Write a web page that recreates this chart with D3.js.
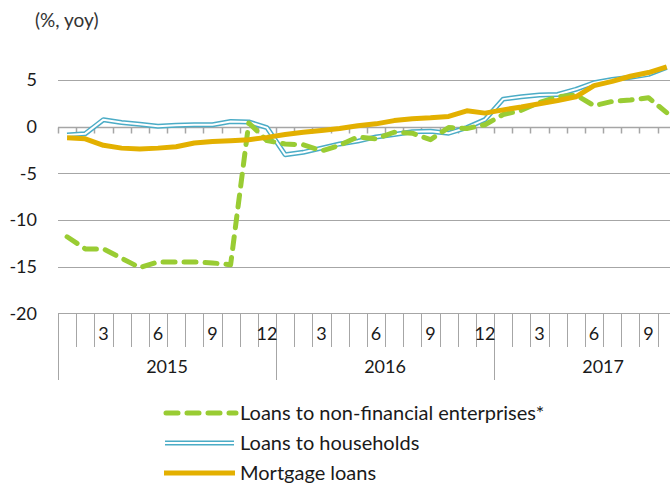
<!DOCTYPE html>
<html><head><meta charset="utf-8">
<script src="https://cdn.jsdelivr.net/npm/d3@7"></script>
<style>
html,body{margin:0;padding:0;background:#fff;}
svg{display:block;font-family:Lato, "Open Sans", sans-serif;}
</style></head>
<body>
<script>
const years = ["2015","2016","2017"];
const months = ["1","2","3","4","5","6","7","8","9","10","11","12",
                "1","2","3","4","5","6","7","8","9","10","11","12",
                "1","2","3","4","5","6","7","8","9","10"];
const yTicks = [5,0,-5,-10,-15,-20];
const seriesNames = ["Loans to non-financial enterprises*","Loans to households","Mortgage loans"];
const enterprises = [-11.8,-13.1,-13.1,-14.1,-15.1,-14.5,-14.5,-14.5,-14.6,-14.8,
                     0.4,-1.5,-1.85,-1.95,-2.6,-2.0,-1.1,-1.3,-0.6,-0.7,-1.4,-0.1,-0.2,0.2,
                     1.3,1.75,2.6,3.2,3.4,2.25,2.7,2.85,3.1,1.5];
const households = [-0.9,-0.75,0.75,0.45,0.25,0.05,0.15,0.2,0.2,0.55,0.5,-0.1,
                    -3.0,-2.75,-2.3,-1.85,-1.55,-1.1,-0.85,-0.55,-0.5,-0.7,-0.1,0.75,
                    2.95,3.2,3.4,3.45,4.0,4.7,5.05,5.3,5.6,6.35];
const mortgage = [-1.2,-1.3,-2.0,-2.3,-2.4,-2.3,-2.15,-1.75,-1.6,-1.5,-1.4,-1.15,
                  -0.85,-0.6,-0.4,-0.2,0.1,0.3,0.65,0.85,0.95,1.1,1.7,1.45,
                  1.8,2.1,2.45,2.8,3.2,4.4,4.85,5.4,5.8,6.4];

const W=670,H=483;
const svg=d3.select("body").append("svg").attr("width",W).attr("height",H);
const left=58, cell=18.17, right=left+months.length*cell;
const x=d3.scaleBand().domain(d3.range(months.length)).range([left,right]).padding(0);
const y=d3.scaleLinear().domain([-20,5]).range([313.3,80]);
const gray="#A6A6A6", txt="#1a1a1a";

// title
svg.append("text").attr("x",35).attr("y",27).attr("font-size",19).attr("fill","#333").text("(%, yoy)");

// gridlines
svg.append("g").selectAll("line").data(yTicks.filter(d=>d!==0)).join("line")
  .attr("x1",left).attr("x2",right).attr("y1",d=>Math.round(y(d))+0.5).attr("y2",d=>Math.round(y(d))+0.5)
  .attr("stroke",gray).attr("stroke-width",1);
// y labels
svg.append("g").selectAll("text").data(yTicks).join("text")
  .attr("x",37).attr("y",d=>y(d)).attr("dy","0.35em").attr("text-anchor","end")
  .attr("font-size",18).attr("fill",txt).text(d=>d);

// zero axis with ticks
const zy=Math.round(y(0))+0.5;
svg.append("line").attr("x1",left).attr("x2",right).attr("y1",zy).attr("y2",zy).attr("stroke",gray).attr("stroke-width",1.5);
svg.append("g").selectAll("line").data(d3.range(months.length+1)).join("line")
  .attr("x1",i=>Math.round(left+i*cell)+0.5).attr("x2",i=>Math.round(left+i*cell)+0.5)
  .attr("y1",zy).attr("y2",zy+6).attr("stroke",gray).attr("stroke-width",1.5);

// category axis
const by=Math.round(y(-20))+0.5;
svg.append("line").attr("x1",left).attr("x2",right).attr("y1",by).attr("y2",by).attr("stroke",gray);
svg.append("g").selectAll("line").data(d3.range(months.length+1)).join("line")
  .attr("x1",i=>Math.round(left+i*cell)+0.5).attr("x2",i=>Math.round(left+i*cell)+0.5)
  .attr("y1",by).attr("y2",i=>(i%12===0)?380:347).attr("stroke",gray);
svg.append("g").selectAll("text").data(months.map((m,i)=>({m,i})).filter(d=>+d.m%3===0)).join("text")
  .attr("x",d=>x(d.i)+x.bandwidth()/2).attr("y",340).attr("text-anchor","middle")
  .attr("font-size",18).attr("fill",txt).text(d=>d.m);
svg.append("g").selectAll("text").data(years).join("text")
  .attr("x",(d,i)=>left+(i*12+6)*cell).attr("y",373).attr("text-anchor","middle")
  .attr("font-size",18).attr("fill",txt).text(d=>d);

const line=d3.line().x((d,i)=>x(i)+x.bandwidth()/2).y(d=>y(d));
const teal="#4BACC6", green="#99CC33", gold="#E3B000";
// households double line
svg.append("path").attr("d",line(households)).attr("fill","none").attr("stroke",teal).attr("stroke-width",5).attr("stroke-linejoin","round");
svg.append("path").attr("d",line(households)).attr("fill","none").attr("stroke","#fff").attr("stroke-width",2).attr("stroke-linejoin","round");
// enterprises
svg.append("path").attr("d",line(enterprises)).attr("fill","none").attr("stroke",green).attr("stroke-width",5)
  .attr("stroke-dasharray","12,9").attr("stroke-linecap","round").attr("stroke-linejoin","round");
// mortgage
svg.append("path").attr("d",line(mortgage)).attr("fill","none").attr("stroke",gold).attr("stroke-width",5).attr("stroke-linejoin","round");

// legend
const lg=svg.append("g");
const rows=[413,443,473];
lg.append("line").attr("x1",166).attr("x2",236).attr("y1",rows[0]).attr("y2",rows[0])
  .attr("stroke",green).attr("stroke-width",5).attr("stroke-dasharray","12,9").attr("stroke-linecap","round");
lg.append("line").attr("x1",165).attr("x2",234).attr("y1",rows[1]).attr("y2",rows[1]).attr("stroke",teal).attr("stroke-width",5);
lg.append("line").attr("x1",165).attr("x2",234).attr("y1",rows[1]).attr("y2",rows[1]).attr("stroke","#fff").attr("stroke-width",2);
lg.append("line").attr("x1",164).attr("x2",235).attr("y1",rows[2]).attr("y2",rows[2]).attr("stroke",gold).attr("stroke-width",5);
lg.selectAll("text").data(seriesNames).join("text")
  .attr("x",240).attr("y",(d,i)=>rows[i]).attr("dy","0.35em").attr("font-size",20).attr("fill",txt).text(d=>d);
</script>
</body></html>
